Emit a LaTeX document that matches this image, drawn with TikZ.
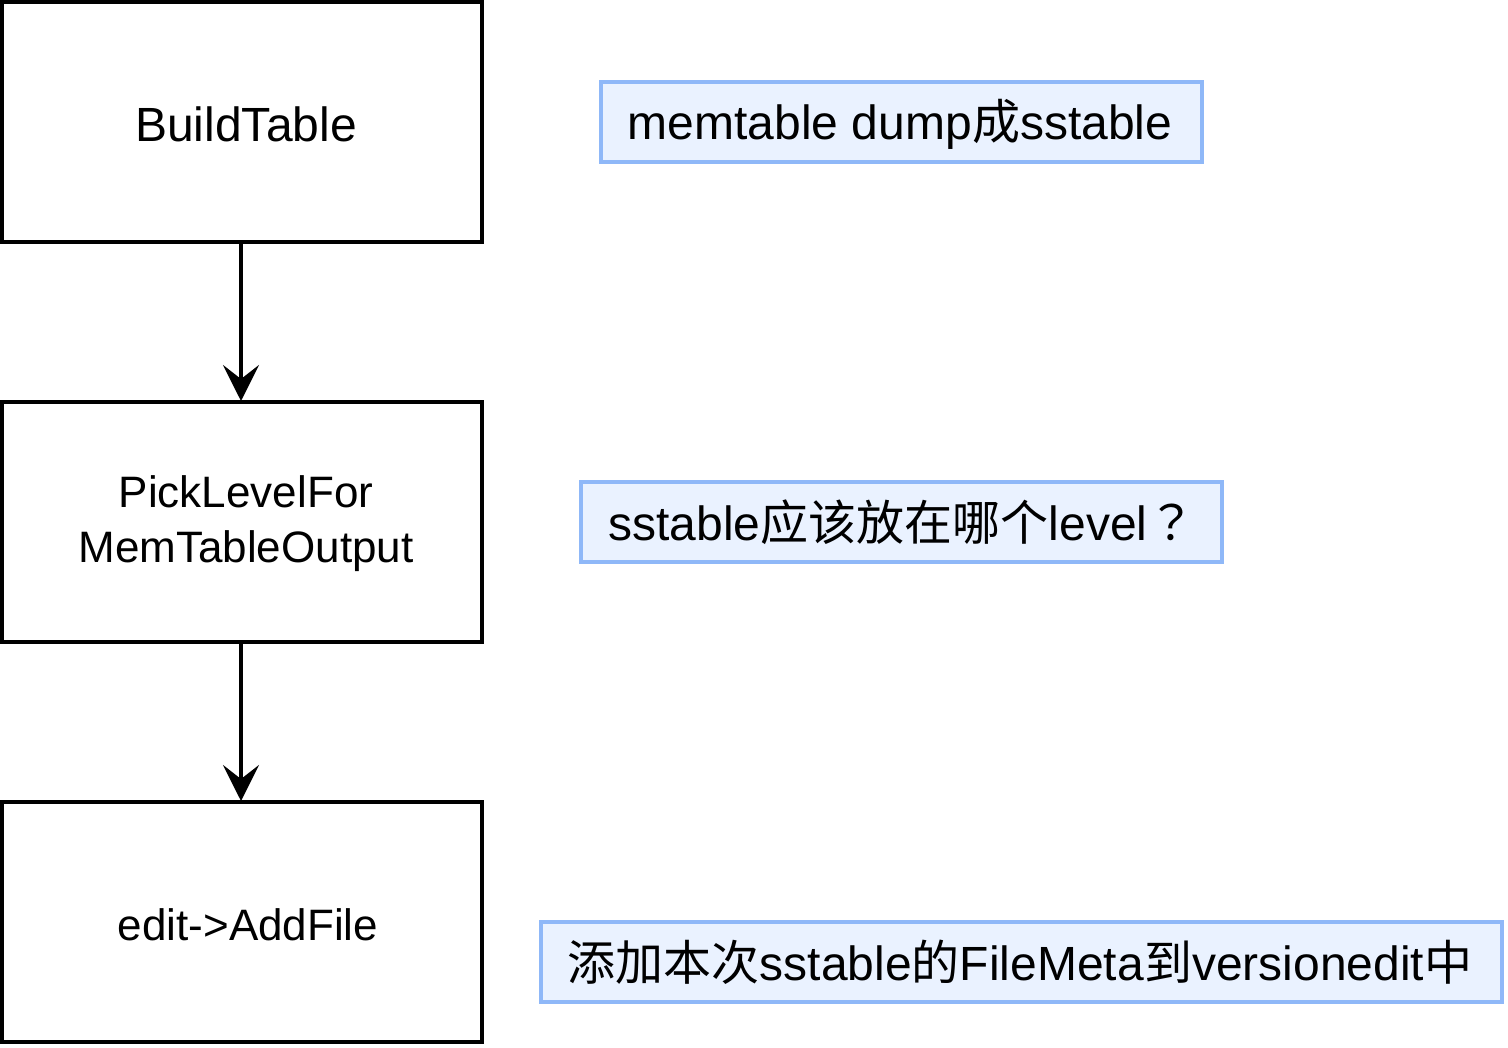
\documentclass[tikz,border=0pt]{standalone}
\usepackage{fontspec}
\setmainfont{Liberation Sans}
\newfontfamily\cjk{Noto Sans CJK SC}
\newfontfamily\cjkq{Noto Sans CJK TC}
\usetikzlibrary{arrows.meta}
\definecolor{notefill}{HTML}{EAF2FF}
\definecolor{notedraw}{HTML}{8FB8F8}
\tikzset{
  stepbox/.style={draw=black,line width=3.6pt,fill=white},
  notebox/.style={draw=notedraw,line width=3.6pt,fill=notefill},
  lbl/.style={font=\fontsize{48}{55}\selectfont,align=center,inner sep=0pt},
  slbl/.style={font=\fontsize{44}{55}\selectfont,align=center,inner sep=0pt},
  flow/.style={line width=3.4pt,-{Stealth[length=36pt,width=36pt,inset=14pt]}}
}
\begin{document}
\begin{tikzpicture}[x=1pt,y=-1pt]
\useasboundingbox (0,0) rectangle (1508,1048);
% left step boxes
\draw[stepbox] (2,2) rectangle (482,242);
\coordinate (aB) at (241,242);
\node[lbl] (a) at (246,124) {BuildTable};
\draw[stepbox] (2,402) rectangle (482,642);
\coordinate (bT) at (241,401);
\coordinate (bB) at (241,642);
\node[slbl] (b) at (246,524) {PickLevelFor\\MemTableOutput};
\draw[stepbox] (2,802) rectangle (482,1042);
\coordinate (cT) at (241,801);
\node[slbl] (c) at (248,925) {edit->AddFile};
% connectors
\draw[flow] (aB) -- (bT);
\draw[flow] (bB) -- (cT);
% notes
\draw[notebox] (601,82) rectangle (1202,162);
\node[lbl] (n1) at (900,124) {memtable dump{\cjk 成}sstable};
\draw[notebox] (581,482) rectangle (1222,562);
\node[lbl] (n2) at (902,522) {sstable{\cjk 应该放在哪个}level{\cjkq ？}};
\draw[notebox] (541,922) rectangle (1502,1002);
\node[lbl] (n3) at (1020,962) {{\cjk 添加本次}sstable{\cjk 的}FileMeta{\cjk 到}versionedit{\cjk 中}};
\end{tikzpicture}
\end{document}
